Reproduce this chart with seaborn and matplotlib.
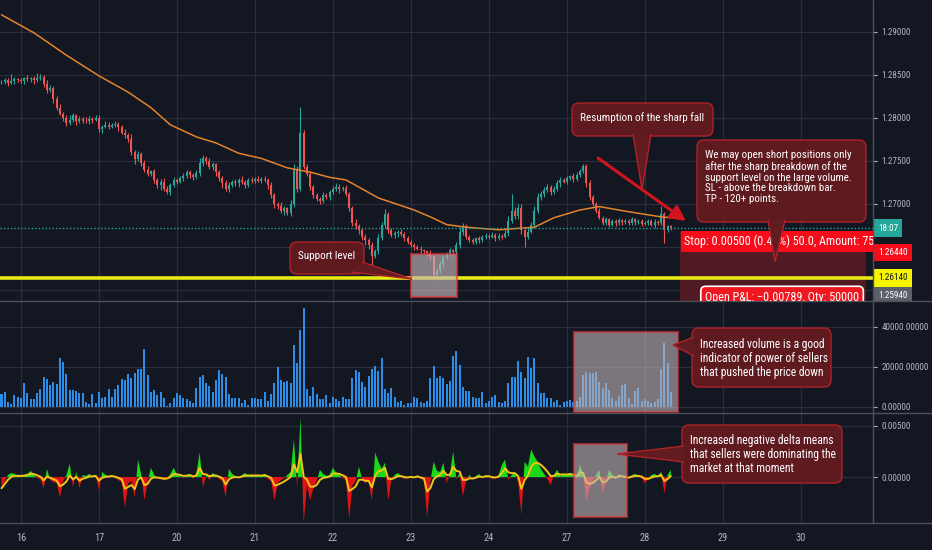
import numpy as np
import pandas as pd
import matplotlib
matplotlib.use("Agg")
import matplotlib.pyplot as plt
import seaborn as sns
from matplotlib import font_manager
from matplotlib.patches import Rectangle, FancyBboxPatch, Polygon
from matplotlib.lines import Line2D
from matplotlib.transforms import blended_transform_factory, Bbox, TransformedBbox

# ---- values: hourly bars, bar 0 = start of the 16th ----
first_bar = -6

# close of each bar, in pips above 1.26000
close_pips = [
    242, 244, 241, 243, 245, 244,
    243, 246, 245, 246, 244, 247, 248, 240, 232, 235, 222, 212, 205, 200, 194, 198, 203, 196, 199, 197, 196, 199, 198, 200,
    187, 190, 192, 190, 192, 193, 189, 183, 180, 176, 160, 152, 158, 148, 140, 135, 138, 128, 122, 126, 118, 114, 122, 128,
    126, 130, 132, 137, 134, 131, 136, 148, 154, 150, 143, 146, 137, 130, 124, 117, 122, 126, 124, 128, 125, 122, 128, 127,
    129, 127, 129, 128, 122, 110, 100, 98, 92, 95, 90, 100, 140, 118, 183, 143, 135, 120, 110, 106, 104, 110, 108, 114,
    118, 120, 117, 119, 112, 95, 78, 74, 70, 62, 58, 52, 40, 45, 60, 75, 88, 70, 64, 66, 68, 65, 60, 56,
    52, 50, 48, 46, 45, 43, 40, 18, 22, 30, 38, 42, 46, 44, 52, 68, 74, 62, 58, 56, 60, 58, 62, 63,
    62, 64, 60, 63, 62, 66, 80, 92, 86, 95, 70, 62, 68, 75, 92, 108, 112, 116, 120, 114, 118, 124, 128, 126,
    130, 132, 129, 134, 138, 144, 124, 108, 100, 92, 84, 78, 82, 76, 80, 78, 81, 79, 80, 78, 82, 79, 80, 77,
    78, 80, 76, 79, 78, 88, 70, 74, 72,
]
# wick length above / below the body, pips
wick_hi = [
    2, 3, 2, 8, 3, 2,
    3, 2, 4, 2, 3, 5, 3, 2, 4, 3, 2, 3, 4, 2, 3, 5, 3, 2, 3, 2, 4, 3, 2, 3,
    3, 2, 4, 3, 2, 3, 2, 3, 4, 2, 5, 3, 4, 2, 3, 4, 2, 3, 2, 3, 4, 3, 2, 3,
    2, 3, 4, 2, 3, 2, 4, 6, 3, 2, 4, 3, 2, 3, 2, 4, 3, 2, 3, 2, 4, 3, 2, 3,
    2, 3, 2, 3, 2, 4, 3, 2, 4, 3, 2, 5, 6, 4, 30, 3, 4, 3, 2, 3, 2, 4, 3, 2,
    3, 4, 3, 2, 3, 2, 3, 4, 3, 2, 3, 2, 4, 3, 5, 4, 6, 3, 2, 3, 2, 3, 2, 3,
    2, 3, 2, 3, 2, 2, 3, 2, 3, 4, 3, 2, 3, 2, 4, 5, 4, 3, 2, 3, 2, 3, 2, 3,
    2, 3, 2, 3, 2, 4, 6, 20, 4, 5, 5, 3, 4, 4, 6, 5, 3, 4, 3, 2, 3, 4, 3, 2,
    3, 2, 4, 3, 3, 3, 2, 4, 3, 2, 3, 2, 3, 2, 3, 2, 3, 2, 3, 2, 3, 2, 3, 2,
    2, 3, 2, 3, 2, 10, 3, 2, 2,
]
wick_lo = [
    3, 2, 4, 2, 3, 2,
    2, 3, 2, 3, 4, 2, 3, 4, 3, 2, 4, 3, 2, 4, 3, 2, 3, 4, 2, 3, 2, 3, 4, 2,
    3, 4, 2, 3, 2, 3, 4, 2, 3, 4, 3, 5, 2, 4, 3, 2, 3, 4, 3, 6, 3, 2, 3, 2,
    3, 2, 3, 2, 4, 3, 2, 3, 4, 3, 2, 3, 4, 3, 5, 2, 3, 2, 3, 4, 2, 3, 2, 3,
    3, 2, 3, 2, 4, 3, 5, 4, 3, 5, 3, 4, 3, 4, 3, 2, 3, 4, 3, 2, 4, 3, 2, 3,
    2, 3, 4, 2, 3, 3, 4, 3, 5, 4, 6, 4, 13, 3, 3, 2, 3, 4, 2, 3, 4, 2, 3, 2,
    2, 3, 2, 3, 2, 3, 4, 6, 3, 2, 3, 2, 3, 4, 2, 3, 4, 3, 2, 3, 2, 3, 2, 3,
    3, 2, 3, 2, 3, 2, 3, 2, 4, 3, 5, 12, 3, 2, 3, 2, 3, 4, 2, 3, 2, 3, 4, 2,
    3, 2, 3, 2, 3, 2, 4, 3, 2, 3, 2, 3, 2, 3, 2, 4, 2, 3, 2, 3, 2, 3, 2, 3,
    2, 3, 2, 4, 3, 2, 15, 3, 2,
]
# volume per bar, thousands
volume_k = [
    6.3, 7.3, 2.7, 1.3, 6, 5.2,
    4.3, 11.8, 6.8, 3.8, 3.8, 6.8, 8.8, 14.8, 13.8, 11, 12.3, 11.5, 24.3, 22.7, 16.5, 8.3, 8.3, 8.2, 6.8, 7.2, 2.7, 1.3, 6.7, 2.2,
    7.7, 4.3, 4.8, 8.8, 4.8, 8.8, 11, 13.8, 13.5, 16.3, 14.3, 16.8, 19, 19, 28.8, 16, 7.7, 8.5, 6, 7.7, 4.3, 0.7, 2.2, 4.3,
    6.8, 6, 4.3, 3.8, 3, 2.2, 9.3, 14.8, 16, 12.2, 10.5, 7.7, 13.3, 18.5, 16.5, 14.8, 6.3, 4.3, 4.7, 4.3, 2.2, 3.5, 1, 4.7,
    4.3, 3.8, 3.8, 7.3, 3.2, 6.5, 11.8, 20.2, 13.5, 12.3, 13, 11.8, 31, 21.8, 38.5, 49.3, 8.8, 5.5, 9.8, 6.3, 3.8, 3.8, 6, 2.2,
    4.8, 3.8, 3.2, 5.2, 3.8, 3.8, 14.3, 18.5, 17.3, 12.3, 9.8, 15.5, 19, 20.5, 18, 24.3, 8.8, 6.8, 9.3, 5.2, 2.3, 3.2, 1, 2.2,
    2.2, 4.8, 4.3, 2.7, 1.8, 3.2, 14.3, 20.7, 14.3, 15.5, 14.3, 11.5, 13, 25.7, 28.2, 21, 9.8, 8, 8, 5.2, 4.3, 4.7, 7.7, 1.8,
    3, 5.2, 6, 2.3, 1.8, 3, 11.8, 15.2, 15.2, 23.2, 17.3, 14.3, 25.2, 19.7, 24.3, 12.2, 7.2, 7.2, 4.3, 4.3, 2.7, 3.5, 1, 2.7,
    3, 3.5, 2.3, 3, 5.2, 16, 17.7, 16.8, 16.8, 17.7, 12.3, 9.7, 11.8, 8.5, 4.7, 3, 5.7, 11, 11.3, 4.3, 1.3, 8, 9.7, 3,
    4, 3, 1.8, 2.7, 4, 19, 31.8, 21.8, 7.7,
]
# volume delta per bar, units of 0.0001
delta_e4 = [
    -11, -4, 2, 4, 3, 1,
    1, 2, 3, 6, 2, -1, -2, -11, 8, -3, -5, -6, -20, -4, 2, 13, -10, 5, -11, 2, 1, 3, 1, 2,
    -13, 5, 2, 1, 2, -1, -3, -5, -30, -6, -4, -20, 17, 3, -23, -4, 9, 2, -1, -2, -3, -1, 3, 9,
    2, 1, -1, 2, 3, -2, 4, 24, -10, 2, -3, 4, 1, -2, -4, -20, 8, 3, 1, -1, 2, 4, 1, 2,
    1, 2, 1, 3, -2, -4, -23, -6, -3, -1, 2, 5, 37, -11, 59, -45, -8, -23, -10, -4, 7, 3, 1, 2,
    9, 4, 2, -1, -3, -41, -8, -4, 10, -2, -6, -4, -23, 24, 15, 8, 14, -23, -3, 2, 4, 1, -2, -1,
    1, -1, 2, -2, -3, -40, -4, 15, 6, 5, 14, -6, 3, 25, -2, 4, -19, -3, 2, -2, 1, 3, -1, 2,
    1, -2, -1, 2, 12, 17, -3, 2, 4, -5, -37, 15, 10, 27, 20, 15, 8, 3, -2, -8, 2, 7, 1, 3,
    2, 4, 1, -2, 12, 3, -23, -10, -4, 2, 7, -16, -3, 7, 2, -2, 3, 1, -1, -2, 2, 3, 1, -1,
    -6, -2, 2, 3, 1, 5, -16, 2, 7,
]
# orange moving average, read at a few bars
ma_bar = [-6, 4, 14, 24, 33, 40, 46, 54, 60, 67, 74, 82, 89, 95, 100, 110, 121, 126, 131, 137, 147, 158, 164, 172, 178, 187, 197, 200]
ma_pips = [320, 299, 273, 249, 230, 212, 192, 178, 171, 159, 153, 142, 137, 131, 128, 107, 93, 85, 76, 73, 70, 73, 84, 93, 97, 91, 85, 84]

day_bar = [0, 24, 48, 72, 96, 120, 144, 168, 192, 216, 240]
day_labels = ['16', '17', '20', '21', '22', '23', '24', '27', '28', '29', '30']

support_price = 1.2614
stop_price = 1.2644
pnl_price = 1.2594

# ---- look ----
W, H = 932, 550
BG = '#131722'
GRID = '#2a2e3a'
SEP = '#4c505b'
TXT = '#b2b5be'
UP, DOWN = '#26a69a', '#ef5350'
CALL_FC, CALL_EC = '#621b20', '#b02228'
SCALE_FS = 6.6

sns.set_style('dark', rc={'axes.facecolor': BG, 'figure.facecolor': BG,
                          'grid.color': GRID, 'axes.edgecolor': BG})
available = {f.name for f in font_manager.fontManager.ttflist}
main_font = next((f for f in ['Liberation Sans Narrow', 'Roboto Condensed', 'Roboto']
                  if f in available), 'DejaVu Sans')
plt.rcParams['font.family'] = [main_font, 'DejaVu Sans']

bars = pd.DataFrame({
    'bar': np.arange(first_bar, first_bar + len(close_pips)),
    'close': 1.26 + np.array(close_pips) / 1e4,
    'volume': np.array(volume_k) * 1000,
    'delta': np.array(delta_e4) / 1e4,
})
bars['open'] = bars['close'].shift(1).fillna(bars['close'])
bars['high'] = bars[['open', 'close']].max(axis=1) + np.array(wick_hi) / 1e4
bars['low'] = bars[['open', 'close']].min(axis=1) - np.array(wick_lo) / 1e4
bars['color'] = np.where(bars['close'] >= bars['open'], UP, DOWN)
bars['delta_avg'] = bars['delta'].ewm(span=5).mean()

fig = plt.figure(figsize=(W / 100, H / 100), dpi=100)


def pane(top, bottom):
    ax = fig.add_axes([0, 1 - bottom / H, 873 / W, (bottom - top) / H])
    ax.set_facecolor(BG)
    for s in ax.spines.values():
        s.set_visible(False)
    ax.yaxis.tick_right()
    ax.tick_params(axis='y', colors=TXT, labelsize=SCALE_FS, length=3, width=0.8, pad=3)
    ax.tick_params(axis='x', length=0, labelbottom=False)
    ax.set_xticks(day_bar)
    ax.grid(True, color=GRID, linewidth=0.9)
    ax.set_axisbelow(True)
    return ax


ax_p = pane(0, 301)
ax_v = pane(301, 413)
ax_d = pane(413, 523)

# overlay in pixel units for notes and callouts
ov = fig.add_axes([0, 0, 1, 1], zorder=10)
ov.set_xlim(0, W)
ov.set_ylim(H, 0)
ov.axis('off')

# ---- price pane ----
ax_p.add_patch(Rectangle((680, 232), 186, 69, transform=ov.transData,
                         fc='#5a1b21', ec='none', alpha=0.85, zorder=1))
body_lo = bars[['open', 'close']].min(axis=1)
body_h = np.maximum((bars['close'] - bars['open']).abs(), 0.00003)
ax_p.vlines(bars['bar'], bars['low'], bars['high'], colors=bars['color'], linewidth=0.8, zorder=3)
ax_p.bar(bars['bar'], body_h, bottom=body_lo, width=0.62, color=bars['color'],
         edgecolor='none', linewidth=0, zorder=4)
sns.lineplot(x=ma_bar, y=1.26 + np.array(ma_pips) / 1e4, ax=ax_p, color='#e5832a',
             linewidth=1.1, zorder=5)
ax_p.axhline(support_price, color='#e9e915', linewidth=2.6, zorder=6)
ax_p.axhline(bars['close'].iloc[-1], color=UP, linewidth=1, linestyle=(0, (1, 1.5)), zorder=6)
ax_p.add_patch(Rectangle((120, 1.2592), 14.2, 0.0050, fc='#c4b6b9', alpha=0.65,
                         ec='#e0343a', linewidth=1.6, zorder=8))
ax_p.set_ylim(1.25872, 1.29372)
ax_p.set_yticks([1.26, 1.265, 1.27, 1.275, 1.28, 1.285, 1.29])
ax_p.set_yticklabels(['' if v < 1.2675 else f'{v:.5f}' for v in ax_p.get_yticks()])

# ---- volume pane ----
sns.barplot(x=bars['bar'], y=bars['volume'], native_scale=True, orient='x', color='#2b8de6',
            saturation=1, width=0.62, edgecolor='none', linewidth=0, ax=ax_v, zorder=3)
ax_v.add_patch(Rectangle((170.2, -2500), 32, 40000, fc='#c4b6b9', alpha=0.6,
                         ec='#e0343a', linewidth=1.6, zorder=8))
ax_v.set_ylim(-3000, 53000)
ax_v.set_yticks([0, 20000, 40000])
ax_v.set_yticklabels([f'{v:.5f}' for v in ax_v.get_yticks()])

# ---- delta pane ----
d = bars['delta'].to_numpy()
ax_d.fill_between(bars['bar'], d, 0, where=d >= 0, interpolate=True, color='#19d919', linewidth=0, zorder=3)
ax_d.fill_between(bars['bar'], d, 0, where=d < 0, interpolate=True, color='#e01414', linewidth=0, zorder=3)
sns.lineplot(x=bars['bar'], y=bars['delta_avg'], ax=ax_d, color='#f2c418', linewidth=1.4, zorder=4)
ax_d.add_patch(Rectangle((170.2, -0.00392), 16.3, 0.00716, fc='#c4b6b9', alpha=0.6,
                         ec='#e0343a', linewidth=1.6, zorder=8))
ax_d.set_ylim(-0.0045, 0.00627)
ax_d.set_yticks([0, 0.005])
ax_d.set_yticklabels(['0.00000', '0.00500'])
ax_d.set_xticklabels(day_labels)
ax_d.tick_params(axis='x', labelbottom=True, colors=TXT, labelsize=7.5, pad=7)

for ax in (ax_p, ax_v, ax_d):
    ax.set_xlim(-6.46, 262.2)
    ax.set_xlabel('')
    ax.set_ylabel('')

# pane separators
for y in (301, 413, 523):
    fig.add_artist(Line2D([0, 1], [1 - y / H] * 2, transform=fig.transFigure, color=SEP, linewidth=1))
fig.add_artist(Line2D([873 / W] * 2, [1 - 523 / H, 1], transform=fig.transFigure, color=SEP, linewidth=1))

# ---- price scale tags ----
price_clip = TransformedBbox(Bbox.from_extents(0, 1 - 301 / H, 1, 1), fig.transFigure)


def tag(value, text, fc, tc):
    t = ax_p.annotate(text, xy=(1, value), xycoords=blended_transform_factory(ax_p.transAxes, ax_p.transData),
                      xytext=(5, 0), textcoords='offset pixels', ha='left', va='center',
                      fontsize=SCALE_FS, color=tc, annotation_clip=False, zorder=30,
                      bbox=dict(boxstyle='square,pad=0.45', fc=fc, ec='none'))
    t.set_clip_on(True)
    t.set_clip_box(price_clip)


tag(bars['close'].iloc[-1], '18:07', UP, 'white')
tag(stop_price, f'{stop_price:.5f}', '#f70d1a', 'white')
tag(support_price, f'{support_price:.5f}', '#f5f500', '#131722')
tag(pnl_price, f'{pnl_price:.5f}', '#5d606b', 'white')

# position tool labels
stop_txt = ov.text(684, 241.5, 'Stop: 0.00500 (0.40%) 50.0, Amount: 75000', va='center', ha='left',
                   fontsize=8.7, color='white', zorder=12,
                   bbox=dict(boxstyle='square,pad=0.28', fc='#f70d1a', ec='none'))
pnl_txt = ov.text(705, 297, 'Open P&L: \u22120.00789, Qty: 50000', va='center', ha='left',
                  fontsize=8.7, color='white', zorder=12,
                  bbox=dict(boxstyle='round,pad=0.35,rounding_size=0.4', fc='#f01820', ec='white', lw=1.2))
for t in (stop_txt, pnl_txt):
    t.set_clip_on(True)
    t.set_clip_box(ax_p.bbox)

# red arrow
ov.annotate('', xy=(686, 221), xytext=(598, 158),
            arrowprops=dict(arrowstyle='-|>,head_length=0.9,head_width=0.45', color='#d3141c',
                            lw=2.2, shrinkA=0, shrinkB=0), zorder=13)


def callout(x0, y0, x1, y1, tail, text, tx, ty, ha='left', fs=8):
    ov.add_patch(FancyBboxPatch((x0, y0), x1 - x0, y1 - y0, boxstyle='round,pad=0,rounding_size=7',
                                fc=CALL_FC, ec=CALL_EC, lw=1, alpha=0.97, zorder=20))
    ov.add_patch(Polygon(tail, closed=False, fc=CALL_FC, ec=CALL_EC, lw=1, zorder=21))
    ov.text(tx, ty, text, ha=ha, va='top', fontsize=fs, color='white', linespacing=1.1, zorder=22)


callout(290, 242, 364, 274, [(351, 272), (412, 279), (362, 262)], 'Support level', 327, 251, ha='center')
callout(572, 103, 713, 136, [(633, 134), (642, 190), (651, 134)], 'Resumption of the sharp fall', 642, 112, ha='center')
callout(697, 140, 866, 222, [(768, 220), (775, 262), (785, 220)],
        'We may open short positions only\nafter the sharp breakdown of the\nsupport level on the large volume.\n'
        'SL - above the breakdown bar.\nTP - 120+ points.', 705, 150, fs=7.9)
callout(692, 328, 831, 387, [(694, 337), (673, 345), (694, 356)],
        'Increased volume is a good\nindicator of power of sellers\nthat pushed the price down', 700, 338, fs=8.4)
callout(682, 425, 842, 483, [(684, 446), (617, 454), (684, 462)],
        'Increased negative delta means\nthat sellers were dominating the\nmarket at that moment', 690, 434, fs=8.3)

fig.savefig('out.png', dpi=100, facecolor=BG)
